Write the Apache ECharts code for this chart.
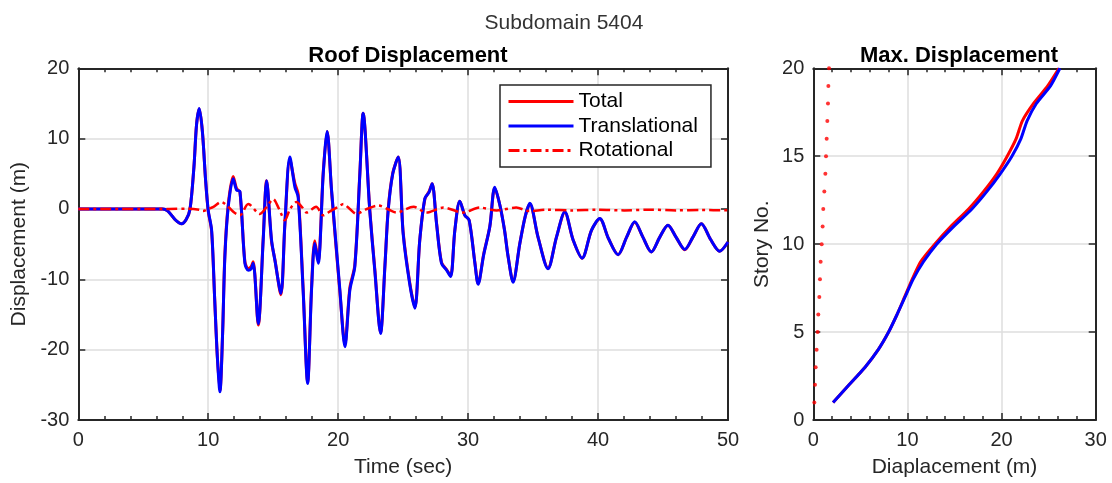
<!DOCTYPE html>
<html>
<head>
<meta charset="utf-8">
<script src="https://cdn.jsdelivr.net/npm/echarts@6/dist/echarts.min.js"></script>
<style>
html,body{margin:0;padding:0;background:#fff;}
#main{width:1112px;height:483px;}
</style>
</head>
<body>
<div id="main"></div>
<script>
// ---- Roof displacement time history (left panel) ----
var timeT = [0, 6.5, 6.9, 7.5, 7.95, 8.3, 8.6, 8.9, 9.1, 9.31, 9.55, 9.8, 10.0, 10.26, 10.5, 10.7, 10.9, 11.1, 11.28, 11.54, 11.92, 12.18, 12.44, 12.82, 13.08, 13.3, 13.46, 13.85, 14.23, 14.49, 14.87, 15.13, 15.59, 15.9, 16.28, 16.67, 16.92, 17.3, 17.65, 17.95, 18.2, 18.46, 18.85, 19.15, 19.49, 20.13, 20.52, 20.9, 21.28, 21.67, 21.92, 22.44, 22.82, 23.26, 23.6, 23.85, 24.2, 24.62, 25.0, 25.5, 25.9, 26.28, 26.67, 27.0, 27.23, 27.57, 27.95, 28.34, 28.65, 28.98, 29.36, 29.75, 30.08, 30.52, 30.77, 31.2, 31.67, 32.05, 32.45, 32.8, 33.08, 33.46, 33.98, 34.4, 34.75, 35.38, 36.15, 36.8, 37.44, 38.08, 38.77, 39.5, 40.13, 40.8, 41.54, 42.2, 42.82, 43.45, 44.1, 44.75, 45.38, 46.0, 46.67, 47.3, 47.95, 48.65, 49.36, 50];
var transV = [0, 0, -0.3, -1.6, -2.1, -1.5, 0, 6, 12, 14.3, 11, 4, -0.2, -3, -13, -21, -26, -18, -6.8, 0.3, 4.3, 2.7, 2.5, -7.7, -8.7, -8.5, -7.7, -16.3, -4.4, 4.0, -4.4, -7.3, -12.0, -2, 7.4, 3.1, 1.7, -11.5, -24.8, -11.5, -4.9, -7.7, 5.0, 11.0, 2.7, -11.5, -19.6, -11.5, -8.2, 5.0, 13.6, -0.5, -8.8, -17.7, -8, -0.2, 5, 7.4, -3.5, -10.6, -14.1, -4.4, 1.5, 2.4, 3.6, -2.1, -7.7, -8.7, -9.6, -3.0, 1.1, -0.9, -1.6, -7.7, -10.7, -6.5, -2.5, 3.1, 0.5, -3.0, -6.8, -10.4, -4.9, -1, 0.8, -4.0, -8.5, -4.0, -0.4, -4.4, -7.0, -3.0, -1.35, -4.2, -6.5, -4, -1.8, -4, -6.1, -4, -2.3, -4, -5.75, -4, -2.1, -4.3, -6.0, -4.7];
var totalV = [0, 0, -0.3, -1.6, -2.1, -1.5, 0, 6, 12, 14.2, 11, 4, -0.3, -3.2, -13, -21, -25.8, -18, -6.5, 0.6, 4.6, 2.9, 2.4, -7.5, -8.5, -8.2, -7.5, -16.5, -4.2, 4.0, -4.6, -7.2, -12.2, -2.2, 7.0, 3.6, 2.1, -11.2, -24.6, -11.2, -4.5, -7.4, 5.2, 11.0, 2.5, -11.8, -19.2, -11.2, -8.0, 5.2, 13.6, -0.3, -8.6, -17.6, -8, 0, 5.1, 7.4, -3.3, -10.4, -14.0, -4.4, 1.4, 2.5, 3.6, -2.0, -7.6, -8.6, -9.5, -3.0, 1.1, -0.9, -1.6, -7.6, -10.6, -6.4, -2.5, 3.0, 0.5, -3.0, -6.8, -10.3, -4.9, -1, 0.7, -4.0, -8.4, -4.0, -0.5, -4.4, -7.0, -3.0, -1.4, -4.2, -6.5, -4, -1.9, -4, -6.1, -4, -2.3, -4, -5.8, -4, -2.1, -4.3, -6.0, -4.7];
var rotT = [0, 7.0, 8.5, 9.3, 9.6, 10.0, 10.4, 11.0, 11.6, 12.0, 12.44, 13.08, 13.98, 14.5, 15.0, 15.45, 15.9, 16.3, 16.8, 17.2, 17.57, 18.3, 18.85, 19.4, 20.0, 20.4, 20.9, 21.4, 22.2, 23.1, 23.8, 24.5, 25.8, 26.8, 28.1, 29.6, 30.9, 32.2, 33.7, 34.7, 36, 38, 40, 42, 44, 46, 48, 50];
var rotV = [0, 0, 0.05, -0.1, -0.3, 0, 0.3, 1.0, 0.2, -0.5, -0.9, 0.7, -0.7, 0.3, 1.4, 0, -1.6, 0, 1.0, 0.3, -0.5, 0.3, -0.9, -0.3, 0.3, 0.7, 0, -0.7, 0, 0.5, 0, -0.5, 0.3, -0.5, 0.2, -0.5, 0.2, -0.2, 0.2, -0.3, -0.1, -0.2, -0.1, -0.2, -0.1, -0.2, -0.15, -0.2];

// ---- Max displacement per story (right panel) ----
var stories = [1, 2, 3, 4, 5, 6, 7, 8, 9, 10, 11, 12, 13, 14, 15, 16, 17, 18, 19, 20];
var totalMax = [2.1, 3.8, 5.5, 6.9, 8.0, 8.9, 9.7, 10.5, 11.4, 12.9, 14.6, 16.5, 18.1, 19.5, 20.6, 21.55, 22.2, 23.4, 24.9, 26.1];
var transMax = [2.1, 3.8, 5.5, 6.9, 8.0, 8.9, 9.75, 10.6, 11.7, 13.1, 14.9, 16.85, 18.45, 19.86, 21.1, 22.06, 22.7, 23.7, 25.2, 26.2];
var rotMax = [0.11, 0.18, 0.25, 0.35, 0.46, 0.53, 0.64, 0.71, 0.78, 0.89, 0.99, 1.06, 1.17, 1.28, 1.35, 1.42, 1.49, 1.56, 1.6, 1.67];

var leftXTicks = {min: 0, max: 50, interval: 10};
var leftYTicks = {min: -30, max: 20, interval: 10};
var rightXTicks = {min: 0, max: 30, interval: 10};
var rightYTicks = {min: 0, max: 20, interval: 5};

var FONT = '"Liberation Sans", Arial, Helvetica, sans-serif';
var AX = '#262626';
var GRIDC = '#dedede';

function pairs(xs, ys) { return xs.map(function (x, i) { return [x, ys[i]]; }); }

function axis(kind, gridIndex, position, ticks, opts) {
  opts = opts || {};
  var show = !opts.hidden;
  return {
    type: 'value', gridIndex: gridIndex, position: position,
    min: ticks.min, max: ticks.max, interval: ticks.interval,
    name: opts.name || '', nameLocation: 'middle', nameGap: opts.nameGap || 0,
    nameTextStyle: {fontFamily: FONT, fontSize: 21, color: AX},
    axisLine: {show: true, onZero: false, lineStyle: {color: AX, width: 2}},
    axisTick: {show: true, inside: true, length: 7, lineStyle: {color: AX, width: 1.5}},
    minorTick: {show: !!opts.minor, splitNumber: 5, length: 4, lineStyle: {color: AX, width: 1.5}},
    axisLabel: {show: show, margin: opts.margin || 9, fontFamily: FONT, fontSize: 20, color: AX},
    splitLine: {show: show, lineStyle: {color: GRIDC, width: 1.5}},
    minorSplitLine: {show: false}
  };
}

var chart = echarts.init(document.getElementById('main'), null, {renderer: 'canvas'});
chart.setOption({
  animation: false,
  backgroundColor: '#fff',
  title: [
    {text: 'Subdomain 5404', left: 559, top: 8, textAlign: 'center',
     textStyle: {fontFamily: FONT, fontSize: 21, fontWeight: 'normal', color: '#333'}},
    {text: 'Roof Displacement', left: 403, top: 40, textAlign: 'center',
     textStyle: {fontFamily: FONT, fontSize: 22, fontWeight: 'bold', color: '#000'}},
    {text: 'Max. Displacement', left: 954, top: 40, textAlign: 'center',
     textStyle: {fontFamily: FONT, fontSize: 22, fontWeight: 'bold', color: '#000'}}
  ],
  legend: {
    show: true, orient: 'vertical', left: 500, top: 85,
    data: ['Total', 'Translational', 'Rotational'],
    itemWidth: 65, itemHeight: 14, itemGap: 3.5,
    padding: [6, 13, 6, 7],
    backgroundColor: '#fff', borderColor: AX, borderWidth: 1.5, borderRadius: 0,
    lineStyle: {width: 3},
    itemStyle: {color: 'rgba(0,0,0,0)', borderWidth: 0, opacity: 0},
    textStyle: {fontFamily: FONT, fontSize: 21, color: '#000', lineHeight: 21},
    selectedMode: false
  },
  grid: [
    {left: 78.3, top: 68.3, width: 649.7, height: 351.7, containLabel: false},
    {left: 813.3, top: 68.3, width: 282.4, height: 351.7, containLabel: false}
  ],
  xAxis: [
    axis('x', 0, 'bottom', leftXTicks, {name: 'Time (sec)', nameGap: 37, minor: true, margin: 10}),
    axis('x', 0, 'top', leftXTicks, {hidden: true, minor: true}),
    axis('x', 1, 'bottom', rightXTicks, {name: 'Diaplacement (m)', nameGap: 37, minor: true, margin: 10}),
    axis('x', 1, 'top', rightXTicks, {hidden: true, minor: true})
  ],
  yAxis: [
    axis('y', 0, 'left', leftYTicks, {name: 'Displacement (m)', nameGap: 43}),
    axis('y', 0, 'right', leftYTicks, {hidden: true}),
    axis('y', 1, 'left', rightYTicks, {name: 'Story No.', nameGap: 41}),
    axis('y', 1, 'right', rightYTicks, {hidden: true})
  ],
  series: [
    {name: 'Total', type: 'line', xAxisIndex: 0, yAxisIndex: 0, data: pairs(timeT, totalV),
     symbol: 'none', smooth: 0.3, lineStyle: {color: '#ff0000', width: 3}, itemStyle: {color: '#ff0000'}, z: 2},
    {name: 'Translational', type: 'line', xAxisIndex: 0, yAxisIndex: 0, data: pairs(timeT, transV),
     symbol: 'none', smooth: 0.3, lineStyle: {color: '#0000ff', width: 3}, itemStyle: {color: '#0000ff'}, z: 3},
    {name: 'Rotational', type: 'line', xAxisIndex: 0, yAxisIndex: 0, data: pairs(rotT, rotV),
     symbol: 'none', smooth: 0.3, lineStyle: {color: '#ff0000', width: 2.5, type: [11, 4, 3, 4]}, itemStyle: {color: '#ff0000'}, z: 4},
    {name: 'TotalMax', type: 'line', xAxisIndex: 2, yAxisIndex: 2, data: pairs(totalMax, stories),
     symbol: 'none', smooth: 0.2, lineStyle: {color: '#ff0000', width: 3}, z: 2},
    {name: 'TransMax', type: 'line', xAxisIndex: 2, yAxisIndex: 2, data: pairs(transMax, stories),
     symbol: 'none', smooth: 0.2, lineStyle: {color: '#0000ff', width: 3}, z: 3},
    {name: 'RotMax', type: 'scatter', xAxisIndex: 2, yAxisIndex: 2, data: pairs(rotMax, stories),
     symbol: 'circle', symbolSize: 4, itemStyle: {color: '#ff0000'}, z: 4}
  ]
});
</script>
</body>
</html>
